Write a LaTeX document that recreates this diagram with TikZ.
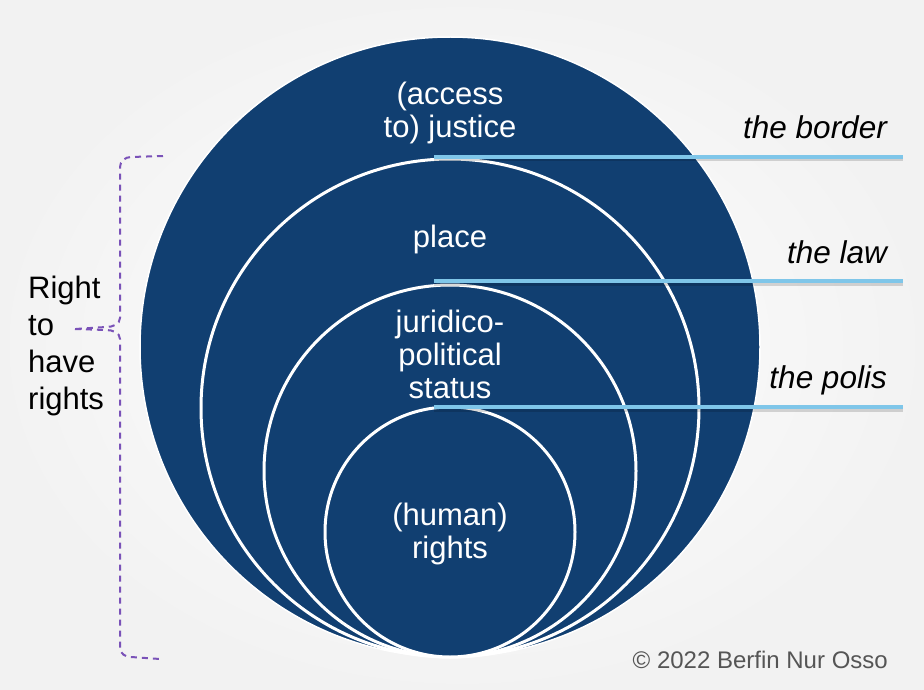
\documentclass[tikz,border=0pt]{standalone}
\usepackage{fontspec}
\setmainfont{Liberation Sans}
\definecolor{disc}{HTML}{113F71}
\definecolor{rule}{HTML}{7FC6E9}
\definecolor{bracec}{HTML}{7A52B8}
\definecolor{copyc}{HTML}{555555}
\begin{document}
\begin{tikzpicture}[x=1pt,y=-1pt,
  ring/.style={fill=disc,draw=white,line width=3pt},
  rulel/.style={draw=rule,line width=4pt},
  ruleshadow/.style={draw=black,opacity=0.15,line width=3pt},
  inlabel/.style={text=white,font=\fontsize{31}{33}\selectfont,align=center,anchor=base,inner sep=0pt},
  sidelabel/.style={text=black,font=\fontsize{31.5}{37}\selectfont\itshape,anchor=base east,inner sep=0pt},
  bracel/.style={draw=bracec,line width=2pt,dash pattern=on 6pt off 5pt},
]
\useasboundingbox (0,0) rectangle (924,690);
\shade[inner color=white,outer color=black!5] (0,0) rectangle (924,690);
% discs
\fill[disc] (450,347) circle[radius=310pt];
\draw[white,line width=1.5pt] (450,347) circle[radius=310pt];
\path[ring] (450,408) circle[radius=249pt];
\path[ring] (450,471) circle[radius=186pt];
\path[ring] (450,532) circle[radius=125pt];
% rules
\coordinate (b1) at (434,157); \coordinate (b2) at (903,157);
\coordinate (w1) at (434,281); \coordinate (w2) at (903,281);
\coordinate (p1) at (434,407); \coordinate (p2) at (903,407);
\draw[ruleshadow] ([yshift=-3pt]b1) -- ([yshift=-3pt]b2);
\draw[ruleshadow] ([yshift=-3pt]w1) -- ([yshift=-3pt]w2);
\draw[ruleshadow] ([yshift=-3pt]p1) -- ([yshift=-3pt]p2);
\draw[rulel] (b1) -- (b2);
\draw[rulel] (w1) -- (w2);
\draw[rulel] (p1) -- (p2);
% inner labels (base anchor = baseline of last line)
\node[inlabel] (justice) at (450,138) {(access\\to) justice};
\node[inlabel] (place) at (450,247) {place};
\node[inlabel] (status) at (450,398) {juridico-\\political\\status};
\node[inlabel] (rights) at (450,558) {(human)\\rights};
% side labels
\node[sidelabel] (border) at (887,139) {the border};
\node[sidelabel] (law) at (887,263) {the law};
\node[sidelabel] (polis) at (887,388) {the polis};
% brace
\coordinate (bt) at (163,156);
\coordinate (tip) at (75,329);
\coordinate (bb) at (160,659);
\draw[bracel] (bt) -- (131,157) to[out=180,in=90] (120,167) -- (120,318) to[out=-90,in=0] (106,327) -- (tip);
\draw[bracel] (tip) -- (106,330) to[out=0,in=90] (120,339) -- (120,648) to[out=-90,in=180] (131,657) -- (bb);
\node[font=\fontsize{31}{37}\selectfont,align=left,anchor=base west,inner sep=0pt] (rthr) at (28,409) {Right\\to\\have\\rights};
% copyright
\node[text=copyc,font=\fontsize{24}{28}\selectfont,anchor=base east,inner sep=0pt] (copy) at (888,668) {© 2022 Berfin Nur Osso};
\end{tikzpicture}
\end{document}
